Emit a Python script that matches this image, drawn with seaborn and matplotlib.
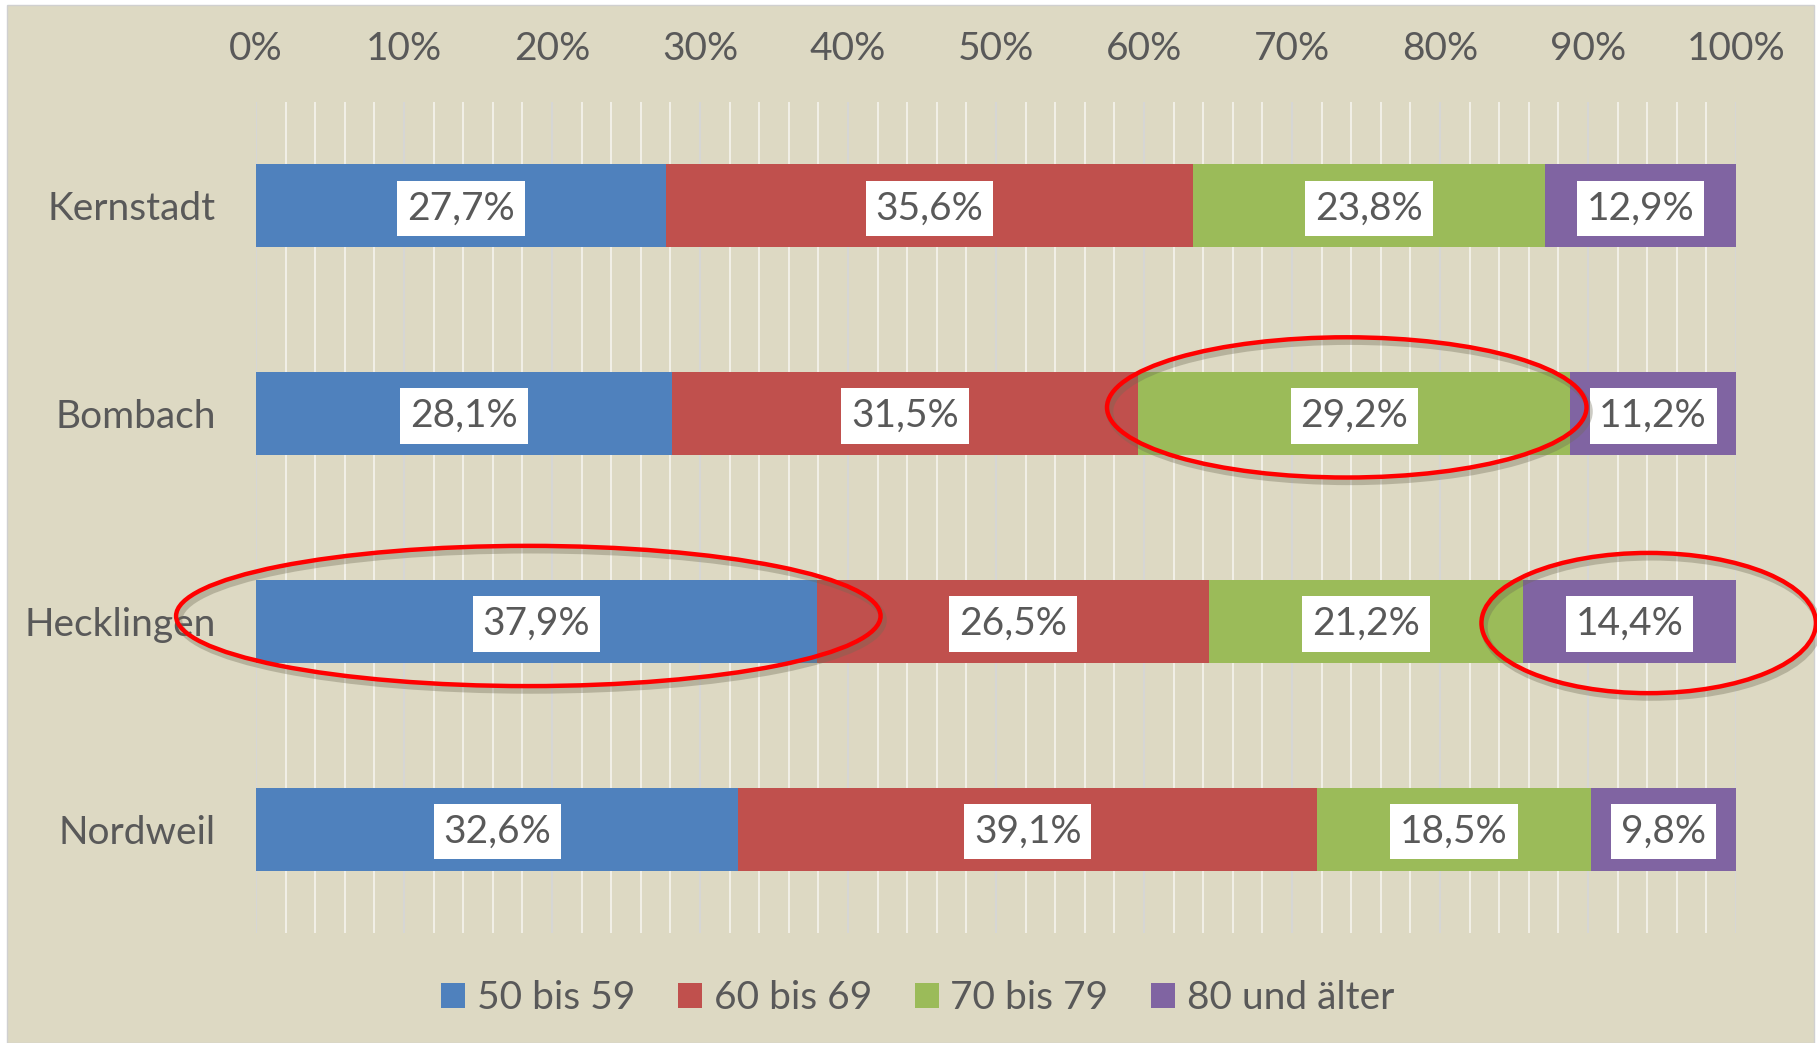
import matplotlib
matplotlib.use("Agg")
import matplotlib.pyplot as plt
import seaborn as sns
import pandas as pd
import numpy as np
from matplotlib.patches import Ellipse, Rectangle, Patch
from matplotlib.ticker import MultipleLocator, FixedLocator, FixedFormatter
import matplotlib.patheffects as pe

# ---------------- data ----------------
categories = ["Kernstadt", "Bombach", "Hecklingen", "Nordweil"]
series_names = ["50 bis 59", "60 bis 69", "70 bis 79", "80 und älter"]
v_50_59 = [27.7, 28.1, 37.9, 32.6]
v_60_69 = [35.6, 31.5, 26.5, 39.1]
v_70_79 = [23.8, 29.2, 21.2, 18.5]
v_80_plus = [12.9, 11.2, 14.4, 9.8]
x_ticks = [0, 10, 20, 30, 40, 50, 60, 70, 80, 90, 100]
x_tick_labels = ["0%", "10%", "20%", "30%", "40%", "50%", "60%", "70%", "80%", "90%", "100%"]
# highlighted segments (category, series)
highlights = [("Bombach", "70 bis 79"), ("Hecklingen", "50 bis 59"), ("Hecklingen", "80 und älter")]

# ---------------- style ----------------
colors = ["#4F81BD", "#C0504D", "#9BBB59", "#8064A2"]
bg = "#DDD9C3"
txt = "#595959"
FONT = ["Lato", "DejaVu Sans"]
FS = 28

sns.set_theme(style="white")
plt.rcParams["font.family"] = FONT

W, H = 1817, 1043
fig = plt.figure(figsize=(W / 100, H / 100), dpi=100, facecolor="white")
fig.patches.append(Rectangle((7 / W, 0), (1814 - 7) / W, (1043 - 5) / H,
                             transform=fig.transFigure, facecolor=bg,
                             edgecolor="#D0D0D0", linewidth=1.0, zorder=-10))

ax = fig.add_axes([256 / W, 1 - 933 / H, (1736 - 256) / W, (933 - 102) / H])
ax.set_zorder(2)
ax.set_facecolor("none")

values = [v_50_59, v_60_69, v_70_79, v_80_plus]
df = pd.DataFrame({"Ort": categories})
cum = np.zeros(len(categories))
for name, vals in zip(series_names, values):
    cum = cum + np.array(vals)
    df["cum_" + name] = cum

# draw cumulative bars from the largest down so each segment shows
for i in reversed(range(len(series_names))):
    sns.barplot(data=df, x="cum_" + series_names[i], y="Ort", order=categories,
                orient="h", color=colors[i], saturation=1, width=0.4,
                errorbar=None, ax=ax, linewidth=0, zorder=3)

# labels
for j, cat in enumerate(categories):
    left = 0.0
    for i, vals in enumerate(values):
        v = vals[j]
        lab = f"{v:.1f}".replace(".", ",") + "%"
        ax.text(left + v / 2, j + 0.012, lab, ha="center", va="center", fontsize=FS,
                color=txt, zorder=5,
                bbox=dict(boxstyle="square,pad=0.25", fc="white", ec="none"))
        left += v

# ellipses around highlighted segments
ell_dx = [-0.5, -0.55, 1.3]
ell_pad = [3.2, 9.7, 8.2]
ell_dy = [-0.03, -0.026, 0.008]
for (cat, ser), dx, pad, dy in zip(highlights, ell_dx, ell_pad, ell_dy):
    j = categories.index(cat)
    i = series_names.index(ser)
    start = sum(values[k][j] for k in range(i))
    w = values[i][j]
    e = Ellipse((start + w / 2 + dx, j + dy), w + pad, 0.675, fill=False,
                edgecolor="#FF0000", linewidth=3.2, zorder=6, clip_on=False,
                path_effects=[pe.SimpleLineShadow(offset=(2, -3), shadow_color="#6f6b55",
                                                  alpha=0.35, linewidth=5),
                              pe.Normal()])
    ax.add_patch(e)

# axes
ax.set_xlim(0, 100)
ax.set_ylim(len(categories) - 0.5, -0.5)
ax.xaxis.tick_top()
ax.xaxis.set_major_locator(FixedLocator(x_ticks))
ax.xaxis.set_major_formatter(FixedFormatter(x_tick_labels))
ax.xaxis.set_minor_locator(MultipleLocator(2))
ax.set_axisbelow(True)
ax.grid(which="minor", axis="x", color="#F4F2EA", linewidth=1.3, zorder=0)
ax.grid(which="major", axis="x", color="#D6D6D6", linewidth=1.3, zorder=0)
ax.grid(False, axis="y")
ax.tick_params(axis="x", which="both", length=0, pad=25, labelsize=FS, labelcolor=txt)
ax.tick_params(axis="y", length=0, pad=29, labelsize=FS, labelcolor=txt)
ax.set_xlabel("")
ax.set_ylabel("")
for s in ax.spines.values():
    s.set_visible(False)

handles = [Patch(facecolor=c, edgecolor="none") for c in colors]
fig.legend(handles, series_names, loc="center", bbox_to_anchor=(0.505, 1 - 998 / H),
           ncol=4, frameon=False, fontsize=FS, labelcolor=txt,
           handlelength=0.62, handleheight=0.62, handletextpad=0.3, columnspacing=1.1)

fig.savefig("out.png", dpi=100, facecolor="white")
